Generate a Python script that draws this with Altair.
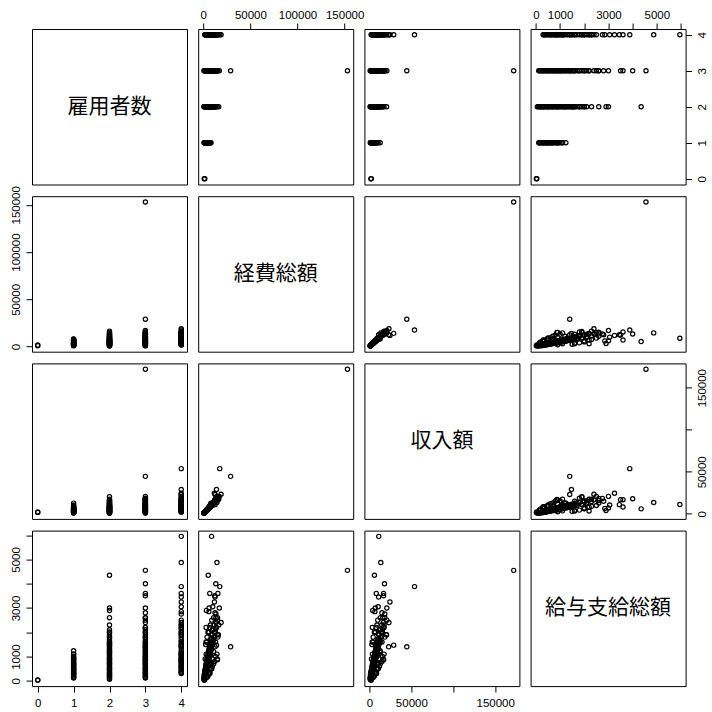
import altair as alt
import pandas as pd

names = ["雇用者数", "経費総額", "収入額", "給与支給総額"]
keys = ["emp", "exp", "inc", "sal"]

# ---- data, grouped by number of employees (雇用者数) ----
g0_salary = [20, 40]
g0_expense = [1000, 1600]
g0_income = [1800, 2300]

g1_salary = [120, 150, 200, 250, 280, 300, 350, 380, 400, 450, 480, 500, 550, 600, 620, 650, 700, 750, 800, 850, 900, 950, 1000, 1100, 1240,
             150, 300, 500, 900, 1100, 700]
g1_expense = [900, 1300, 1100, 1800, 1500, 2300, 2000, 2600, 3000, 2400, 3300, 2800, 3600, 3100, 4200, 3800, 4700, 4000, 5300, 4600, 6000, 5500, 6800, 7400, 8100,
              3500, 5500, 7000, 2000, 3000, 7800]
g1_income = [1100, 1500, 1400, 2200, 1700, 2800, 2500, 3100, 3300, 3000, 4000, 3500, 4400, 3800, 5100, 4600, 5800, 5000, 6500, 5700, 7400, 6800, 8600, 10500, 12800,
             4200, 6600, 8500, 2500, 3600, 9500]

g2_salary = [60, 100, 150, 200, 250, 300, 350, 400, 450, 500, 550, 600, 650, 700, 750, 800, 850, 900, 950, 1000,
             1050, 1100, 1150, 1200, 1250, 1300, 1350, 1400, 1450, 1500, 1550, 1600, 1700, 1800, 1900, 2000, 2100, 2300, 2600, 2900,
             3000, 4350, 200, 300, 500, 1500, 1800, 2000, 1200, 700, 900, 1600]
g2_expense = [700, 1200, 900, 1600, 2200, 1400, 2600, 1900, 3000, 2300, 3500, 2700, 4000, 3200, 4600, 3600, 5100, 4200, 5800, 4700,
              6300, 5200, 7000, 5600, 7600, 6200, 8200, 6700, 9000, 7300, 9700, 8000, 10500, 11200, 15000, 12000, 13000, 16400, 13500, 3300,
              6200, 5300, 5000, 7000, 9000, 2500, 4000, 6000, 11000, 8000, 10000, 13000]
g2_income = [900, 1500, 1200, 2000, 2600, 1800, 3200, 2400, 3600, 2900, 4300, 3300, 4800, 3900, 5500, 4400, 6200, 5000, 7000, 5600,
             7600, 6200, 8400, 6900, 9200, 7500, 9800, 8100, 10600, 8800, 11500, 9600, 12500, 13400, 20500, 14200, 15500, 17500, 16000, 4000,
             7000, 6000, 6000, 8500, 10500, 3000, 4500, 7000, 13000, 9500, 12000, 15000]

g3_salary = [120, 200, 250, 300, 350, 400, 450, 500, 550, 600, 650, 700, 750, 800, 850, 900, 950, 1000, 1050, 1100,
             1150, 1200, 1250, 1300, 1350, 1400, 1450, 1500, 1550, 1600, 1700, 1800, 1900, 2000, 2100, 2200, 2400, 2600, 2800, 3000,
             3500, 3600, 4000, 4550, 1400, 870, 150, 300, 500, 700, 1000, 1600, 2000, 2200, 1800, 2500, 2600]
g3_expense = [800, 1500, 1000, 2100, 1600, 2700, 2000, 3200, 2500, 3800, 2900, 4300, 3400, 4900, 3900, 5500, 4400, 6100, 5000, 6700,
              5500, 7400, 6000, 8100, 6600, 8800, 7200, 9600, 7800, 10400, 8600, 11300, 9400, 12500, 10200, 14000, 13500, 15100, 12500, 17000,
              12200, 6900, 13300, 153000, 29000, 15000, 4000, 6000, 8500, 11000, 13000, 3000, 5000, 7000, 15500, 9000, 11000]
g3_income = [1000, 1800, 1300, 2500, 2000, 3200, 2500, 3800, 3100, 4500, 3600, 5200, 4100, 5900, 4700, 6600, 5300, 7300, 6000, 8000,
             6600, 8800, 7200, 9700, 7900, 10500, 8600, 11400, 9300, 12400, 10200, 13500, 11200, 15000, 12300, 17000, 16800, 18400, 15000, 20800,
             16900, 8200, 18000, 172000, 44600, 17000, 4800, 7200, 10000, 13000, 15500, 3500, 6000, 8000, 18500, 10000, 13000]

g4_salary = [300, 350, 400, 450, 500, 550, 600, 650, 700, 750, 800, 850, 900, 950, 1000, 1050, 1100, 1150, 1200, 1300,
             1400, 1470, 1500, 1600, 1700, 1800, 1900, 2000, 2100, 2200, 2300, 2400, 2500, 2750, 2850, 3050, 3250, 3450, 3600, 3880,
             4870, 5950, 900, 1400, 350, 600, 800, 1100, 1600, 2000, 2300, 1900, 2200]
g4_expense = [2000, 2800, 1600, 3300, 2400, 3900, 2900, 4500, 3300, 5100, 3800, 5700, 4300, 6300, 4800, 7000, 5300, 7700, 5900, 8500,
              6600, 14000, 7300, 10000, 8100, 11000, 9000, 12000, 10000, 13500, 11500, 18900, 15000, 13400, 6000, 10000, 11800, 12500, 15500, 17500,
              14500, 8800, 15000, 12500, 7000, 9500, 12000, 14500, 3500, 5500, 7500, 16000, 3000]
g4_income = [2600, 3500, 2100, 4200, 3100, 4900, 3700, 5600, 4300, 6400, 4900, 7200, 5500, 8000, 6100, 8800, 6800, 9700, 7500, 10800,
             8400, 29000, 9300, 12800, 10400, 14000, 11600, 15500, 13000, 17500, 14800, 23300, 20800, 18400, 6500, 10500, 24500, 11000, 16900, 53800,
             13600, 11200, 16500, 23000, 8500, 12000, 15000, 17500, 4200, 6500, 9000, 20000, 3500]

groups = [
    (0, g0_expense, g0_income, g0_salary),
    (1, g1_expense, g1_income, g1_salary),
    (2, g2_expense, g2_income, g2_salary),
    (3, g3_expense, g3_income, g3_salary),
    (4, g4_expense, g4_income, g4_salary),
]
rows = []
for n, ex, inc, sal in groups:
    for a, b, c in zip(ex, inc, sal):
        rows.append({"emp": n, "exp": a, "inc": b, "sal": c})
df = pd.DataFrame(rows)

# axis ticks (labels hidden where R drops them for overlap)
tick_values = {
    "emp": [0, 1, 2, 3, 4],
    "exp": [0, 50000, 100000, 150000],
    "inc": [0, 50000, 100000, 150000],
    "sal": [0, 1000, 2000, 3000, 4000, 5000, 6000],
}
hidden = {"emp": [], "exp": [], "inc": [100000], "sal": [2000, 4000, 6000]}

W, H = 155, 155.5
FONT = "Liberation Sans"

domains = {}
for k in keys:
    lo, hi = float(df[k].min()), float(df[k].max())
    pad = 0.04 * (hi - lo)
    domains[k] = [lo - pad, hi + pad]


def make_axis(k, orient):
    if hidden[k]:
        expr = "indexof(" + str(hidden[k]) + ", datum.value) >= 0 ? '' : datum.label"
    else:
        expr = "datum.label"
    opts = dict(orient=orient, values=tick_values[k], format="d", labelExpr=expr,
                domain=False, grid=False, ticks=True, tickSize=6, tickColor="black",
                tickWidth=1, labelColor="black", labelFont=FONT, labelFontSize=11.5,
                labelOverlap=False, labelFlush=False, title=None)
    if orient == "top":
        opts.update(labelAngle=0, labelAlign="center", labelBaseline="bottom", labelPadding=3)
    elif orient == "bottom":
        opts.update(labelAngle=0, labelAlign="center", labelBaseline="top", labelPadding=5)
    elif orient == "left":
        opts.update(labelAngle=270, labelAlign="center", labelBaseline="bottom", labelPadding=5)
    else:
        opts.update(labelAngle=270, labelAlign="center", labelBaseline="top", labelPadding=5)
    return alt.Axis(**opts)


panels = []
for i in range(4):
    for j in range(4):
        if i == j:
            lab = pd.DataFrame({"t": [names[i]]})
            p = alt.Chart(lab).mark_text(font="Noto Sans CJK JP", fontSize=21, color="black",
                                         align="center", baseline="middle").encode(
                text="t:N", x=alt.value(W / 2), y=alt.value(H / 2))
        else:
            xk, yk = keys[j], keys[i]
            xaxis = None
            yaxis = None
            if i == 0 and j % 2 == 1:
                xaxis = make_axis(xk, "top")
            if i == 3 and j % 2 == 0:
                xaxis = make_axis(xk, "bottom")
            if j == 0 and i % 2 == 1:
                yaxis = make_axis(yk, "left")
            if j == 3 and i % 2 == 0:
                yaxis = make_axis(yk, "right")
            p = alt.Chart(df).mark_point(shape="circle", filled=False, size=18, color="black",
                                         strokeWidth=1.2, opacity=1).encode(
                x=alt.X(xk, type="quantitative",
                        scale=alt.Scale(domain=domains[xk], nice=False, zero=False),
                        axis=xaxis),
                y=alt.Y(yk, type="quantitative",
                        scale=alt.Scale(domain=domains[yk], nice=False, zero=False),
                        axis=yaxis),
            )
        panels.append(p.properties(width=W, height=H))

chart = alt.concat(*panels, columns=4, spacing=11.2, bounds="flush").configure_view(
    stroke="black", strokeWidth=1
).properties(
    padding={"left": 9, "top": 8, "right": 0, "bottom": 0},
    background="white",
)

chart.save("out.html", embed_options={"renderer": "svg", "actions": False})
